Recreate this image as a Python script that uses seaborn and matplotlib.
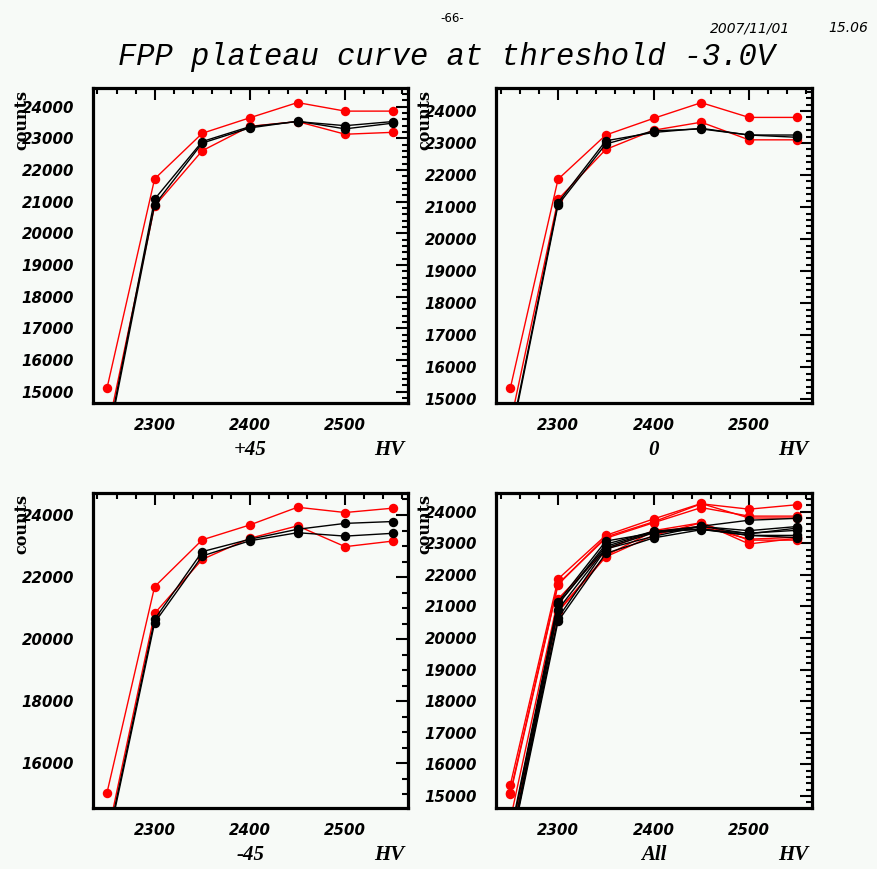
import matplotlib
matplotlib.use("Agg")
import matplotlib.pyplot as plt
import seaborn as sns
import pandas as pd
from matplotlib.ticker import MultipleLocator

# High-voltage scan points
hv = [2250, 2300, 2350, 2400, 2450, 2500, 2550]

# Counts per chamber group (two red and two black curves per group)
p45_red_a = [15110, 21720, 23160, 23650, 24130, 23860, 23860]
p45_red_b = [13700, 20860, 22610, 23380, 23530, 23130, 23190]
p45_blk_a = [13400, 21080, 22900, 23370, 23530, 23400, 23530]
p45_blk_b = [13300, 20900, 22850, 23330, 23540, 23300, 23480]

p0_red_a = [15350, 21870, 23250, 23770, 24260, 23800, 23800]
p0_red_b = [14250, 21240, 22800, 23400, 23650, 23100, 23100]
p0_blk_a = [13800, 21140, 23070, 23330, 23460, 23250, 23250]
p0_blk_b = [13700, 21070, 22970, 23380, 23440, 23250, 23180]

m45_red_a = [15050, 21690, 23200, 23680, 24250, 24080, 24220]
m45_red_b = [13600, 20830, 22570, 23250, 23650, 22980, 23160]
m45_blk_a = [13400, 20640, 22820, 23220, 23540, 23730, 23790]
m45_blk_b = [13300, 20530, 22680, 23170, 23430, 23320, 23410]

panel_names = ["+45", "0", "-45", "All"]

groups = {
    "+45": {"red_a": p45_red_a, "red_b": p45_red_b, "blk_a": p45_blk_a, "blk_b": p45_blk_b},
    "0": {"red_a": p0_red_a, "red_b": p0_red_b, "blk_a": p0_blk_a, "blk_b": p0_blk_b},
    "-45": {"red_a": m45_red_a, "red_b": m45_red_b, "blk_a": m45_blk_a, "blk_b": m45_blk_b},
}

BG = "#f7faf7"
RED = "#ff0000"
BLACK = "#000000"

sns.set_theme(style="white")
plt.rcParams["font.family"] = ["DejaVu Sans"]

fig = plt.figure(figsize=(8.78, 8.69), dpi=100, facecolor=BG)

W, H = 878.0, 869.0
frames = {
    "+45": (92.7, 88, 408, 403),
    "0": (496, 88, 812, 403),
    "-45": (92.7, 493, 408, 808),
    "All": (496, 493, 812, 808),
}
ylims = {
    "+45": (14643, 24590),
    "0": (14885, 24718),
    "-45": (14560, 24709),
    "All": (14620, 24592),
}
ysteps = {"+45": (1000, 200), "0": (1000, 200), "-45": (2000, 500), "All": (1000, 200)}


def long_frame(names):
    rows = []
    for g in names:
        for key, vals in groups[g].items():
            for x, y in zip(hv, vals):
                rows.append({"HV": x, "counts": y, "curve": f"{g}:{key}"})
    return pd.DataFrame(rows)


tick_font = dict(family="DejaVu Sans", weight="bold", style="italic", size=10.8)

for name in panel_names:
    x0, y0, x1, y1 = frames[name]
    ax = fig.add_axes([x0 / W, 1 - y1 / H, (x1 - x0) / W, (y1 - y0) / H])
    ax.set_facecolor(BG)

    names = list(groups) if name == "All" else [name]
    df = long_frame(names)
    reds = [c for c in df["curve"].unique() if c.split(":")[1].startswith("red")]
    blks = [c for c in df["curve"].unique() if c.split(":")[1].startswith("blk")]
    order = reds + blks
    pal = {c: (RED if c in reds else BLACK) for c in order}

    sns.lineplot(data=df, x="HV", y="counts", hue="curve", hue_order=order,
                 palette=pal, units="curve", estimator=None, sort=False,
                 marker="o", markersize=6.8, markeredgewidth=0, linewidth=1.0,
                 legend=False, ax=ax)

    ax.set_xlim(2235, 2566)
    ax.set_ylim(*ylims[name])
    ax.xaxis.set_major_locator(MultipleLocator(100))
    ax.xaxis.set_minor_locator(MultipleLocator(20))
    major, minor = ysteps[name]
    ax.yaxis.set_major_locator(MultipleLocator(major))
    ax.yaxis.set_minor_locator(MultipleLocator(minor))

    ax.tick_params(which="both", direction="in", top=True, right=True,
                   labeltop=False, labelright=False, color="black", width=1.5)
    ax.tick_params(which="major", length=8.6)
    ax.tick_params(which="minor", length=4.3)
    ax.tick_params(axis="x", which="major", pad=10.5)
    ax.tick_params(axis="y", which="major", pad=13.5)
    for lab in ax.get_xticklabels() + ax.get_yticklabels():
        lab.set_fontproperties(tick_font)
        lab.set_color("black")

    for sp in ax.spines.values():
        sp.set_linewidth(2.3)
        sp.set_color("black")
        sp.set_visible(True)

    ax.set_xlabel("")
    ax.set_ylabel("")
    # axis titles placed in axes coordinates
    ax.text(-0.225, 0.90, "counts", transform=ax.transAxes, rotation=90,
            ha="center", va="center", family="DejaVu Serif", weight="bold",
            size=11.5, color="black")
    ax.text(0.94, -0.149, "HV", transform=ax.transAxes, ha="center", va="center",
            family="Liberation Serif", weight="bold", style="italic", size=15,
            color="black")
    ax.text(0.5, -0.149, name, transform=ax.transAxes, ha="center", va="center",
            family="Liberation Serif", weight="bold", style="italic", size=15,
            color="black")

fig.text(447 / W, 1 - 57 / H, "FPP plateau curve at threshold -3.0V",
         ha="center", va="center", family="Liberation Mono", style="italic",
         size=22, color="black")
fig.text(452 / W, 1 - 18 / H, "-66-", ha="center", va="center",
         family="DejaVu Sans", size=8.5, color="black")
fig.text(790 / W, 1 - 28 / H, "2007/11/01", ha="right", va="center",
         family="DejaVu Sans", style="italic", size=10, color="black")
fig.text(868 / W, 1 - 28 / H, "15.06", ha="right", va="center",
         family="DejaVu Sans", style="italic", size=10, color="black")

fig.savefig("out.png", dpi=100, facecolor=BG)
